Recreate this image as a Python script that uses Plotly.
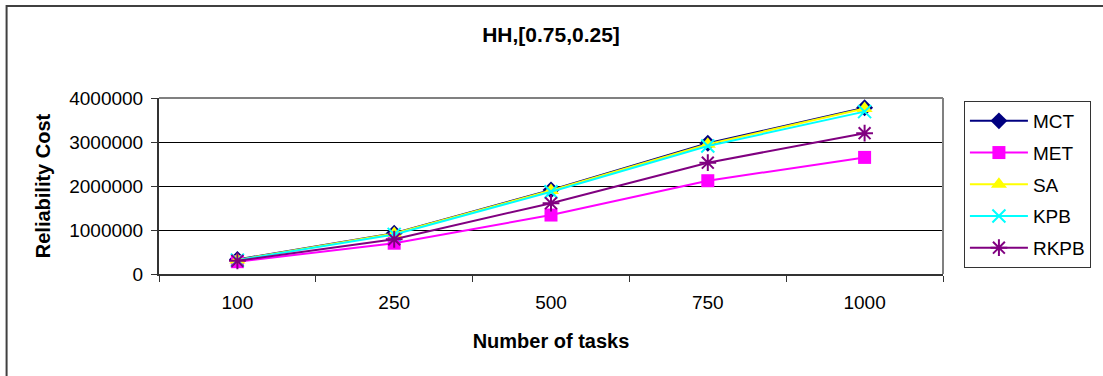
import plotly.graph_objects as go

# Number of tasks (category axis) and reliability cost per heuristic
tasks = ["100", "250", "500", "750", "1000"]
mct = [330000, 925000, 1910000, 2970000, 3780000]
met = [280000, 700000, 1340000, 2120000, 2650000]
sa = [320000, 920000, 1900000, 2950000, 3760000]
kpb = [315000, 900000, 1870000, 2910000, 3690000]
rkpb = [300000, 790000, 1610000, 2530000, 3200000]

series = [
    ("MCT", mct, "#000080", "diamond", 13),
    ("MET", met, "#FF00FF", "square", 13),
    ("SA", sa, "#FFFF00", "triangle-up", 14),
    ("KPB", kpb, "#00FFFF", "x-thin-open", 13),
    ("RKPB", rkpb, "#800080", "asterisk-open", 14),
]

FONT = "Liberation Sans, Arial, sans-serif"

fig = go.Figure()
for name, vals, color, symbol, size in series:
    fig.add_trace(go.Scatter(
        x=tasks, y=vals, name=name, mode="lines+markers",
        legendgroup=name,
        line=dict(color=color, width=2),
        marker=dict(symbol=symbol, size=size, color=color,
                    line=dict(color=color, width=2 if "open" in symbol else 0)),
    ))

W, H = 1103, 376
L, R, T, B = 159, 157, 98, 102
pw, ph = W - L - R, H - T - B

def px_x(p):
    return (p - L) / pw

def px_y(p):
    return (H - B - p) / ph

fig.update_layout(
    width=W, height=H,
    margin=dict(l=L, r=R, t=T, b=B, pad=0),
    paper_bgcolor="white", plot_bgcolor="white",
    font=dict(family=FONT, size=19, color="black"),
    title=dict(text="<b>HH,[0.75,0.25]</b>", x=0.5, xref="paper",
               y=1 - 35 / H, yanchor="middle", font=dict(size=21)),
    xaxis=dict(
        type="category", range=[-0.5, 4.5],
        showline=True, linecolor="#333333", linewidth=2, mirror=False,
        ticks="outside", tickson="boundaries", ticklen=6, tickcolor="#333333",
        ticklabelstandoff=10,
        showgrid=False, zeroline=False,
        title=dict(text="<b>Number of tasks</b>", standoff=22, font=dict(size=20)),
    ),
    yaxis=dict(
        range=[0, 4000000], tickvals=[0, 1000000, 2000000, 3000000, 4000000],
        ticktext=["0", "1000000", "2000000", "3000000", "4000000"],
        showline=True, linecolor="#333333", linewidth=2,
        ticks="outside", ticklen=6, tickcolor="#333333",
        ticklabelstandoff=4,
        showgrid=True, gridcolor="black", gridwidth=1, zeroline=False,
        title=dict(text="<b>Reliability Cost</b>", standoff=13, font=dict(size=20)),
    ),
    legend=dict(
        x=px_x(967), xanchor="left", y=px_y(101), yanchor="top",
        bordercolor="#333333", borderwidth=1, bgcolor="white",
        font=dict(size=19), tracegroupgap=4, itemwidth=58,
    ),
    showlegend=True,
)

# Gray frame on the top and right of the plotting area
fig.add_shape(type="line", xref="paper", yref="paper", x0=0, x1=1, y0=1, y1=1,
              line=dict(color="#808080", width=2))
fig.add_shape(type="line", xref="paper", yref="paper", x0=1, x1=1, y0=0, y1=1,
              line=dict(color="#808080", width=2))

# Outer chart border
fig.add_shape(type="rect", xref="paper", yref="paper",
              x0=px_x(6), x1=px_x(W + 20), y0=px_y(H + 20), y1=px_y(6),
              line=dict(color="#404040", width=2), layer="below")

fig.write_html("out.html")
